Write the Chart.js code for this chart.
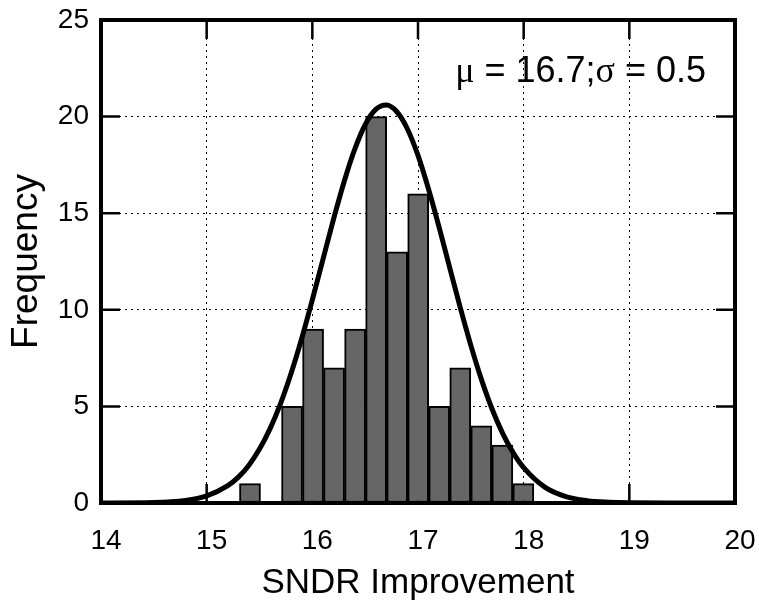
<!DOCTYPE html>
<html>
<head>
<meta charset="utf-8">
<script src="https://cdn.jsdelivr.net/npm/chart.js@4.4.1/dist/chart.umd.min.js"></script>
<style>
  html, body { margin: 0; padding: 0; background: #ffffff; }
  #wrap { width: 759px; height: 606px; }
</style>
</head>
<body>
<div id="wrap"><canvas id="c" width="759" height="606"></canvas></div>
<script>
// ---- data ----
const binCenters = [15.41, 15.609, 15.808, 16.007, 16.206, 16.405, 16.604, 16.803, 17.002, 17.201, 17.4, 17.599, 17.798, 17.997];
const frequencies = [1, 0, 5, 9, 7, 9, 20, 13, 16, 5, 7, 4, 3, 1];

const curveX = [14.0, 14.5, 14.8, 15.0, 15.2, 15.3, 15.4, 15.5, 15.6, 15.7, 15.8, 15.9, 16.0, 16.1, 16.2, 16.3, 16.4, 16.5, 16.6, 16.7, 16.8, 16.9, 17.0, 17.1, 17.2, 17.3, 17.4, 17.5, 17.6, 17.7, 17.8, 17.9, 18.0, 18.2, 18.4, 18.6, 18.8, 19.0, 19.5, 20.0];
const curveY = [0.0, 0.02, 0.13, 0.37, 0.90, 1.34, 1.96, 2.79, 3.85, 5.16, 6.73, 8.53, 10.52, 12.60, 14.68, 16.62, 18.29, 19.58, 20.37, 20.60, 20.25, 19.36, 17.99, 16.24, 14.27, 12.18, 10.11, 8.16, 6.40, 4.88, 3.62, 2.61, 1.83, 0.82, 0.33, 0.12, 0.04, 0.01, 0.0, 0.0];

const xTicks = [14, 15, 16, 17, 18, 19, 20];
const yTicks = [0, 5, 10, 15, 20, 25];
const xTitle = 'SNDR Improvement';
const yTitle = 'Frequency';
const annotationParts = [['μ', 'serif'], [' = 16.7;', 'sans'], ['σ', 'serif'], [' = 0.5', 'sans']];

const SANS = '"Liberation Sans", Arial, Helvetica, sans-serif';
const SERIF = '"Liberation Serif", "DejaVu Serif", serif';

const barData = binCenters.map((x, i) => ({ x: x, y: frequencies[i] }));
const curveData = curveX.map((x, i) => ({ x: x, y: curveY[i] }));

// inward ticks (drawn under the data) and thick frame (drawn over it)
const framePlugin = {
  id: 'frame',
  beforeDatasetsDraw(chart) {
    const { ctx, chartArea: a, scales } = chart;
    const L = 19;
    ctx.save();
    ctx.strokeStyle = '#000';
    ctx.lineWidth = 2.5;
    ctx.beginPath();
    xTicks.forEach(v => {
      const px = scales.x.getPixelForValue(v);
      ctx.moveTo(px, a.bottom); ctx.lineTo(px, a.bottom - L);
      ctx.moveTo(px, a.top); ctx.lineTo(px, a.top + L);
    });
    yTicks.forEach(v => {
      const py = scales.y.getPixelForValue(v);
      ctx.moveTo(a.left, py); ctx.lineTo(a.left + L, py);
      ctx.moveTo(a.right, py); ctx.lineTo(a.right - L, py);
    });
    ctx.stroke();
    ctx.restore();
  },
  afterDatasetsDraw(chart) {
    const { ctx, chartArea: a } = chart;
    ctx.save();
    ctx.strokeStyle = '#000';
    ctx.lineWidth = 4;
    ctx.lineJoin = 'miter';
    ctx.strokeRect(a.left, a.top, a.right - a.left, a.bottom - a.top);
    // annotation text
    const size = 36;
    let widths = annotationParts.map(([t, f]) => {
      ctx.font = size + 'px ' + (f === 'serif' ? SERIF : SANS);
      return ctx.measureText(t).width;
    });
    const total = widths.reduce((s, w) => s + w, 0);
    let x = a.right - 29 - total;
    const y = a.top + 62;
    ctx.fillStyle = '#000';
    ctx.textBaseline = 'alphabetic';
    ctx.textAlign = 'left';
    annotationParts.forEach(([t, f], i) => {
      ctx.font = size + 'px ' + (f === 'serif' ? SERIF : SANS);
      ctx.fillText(t, x, y);
      x += widths[i];
    });
    ctx.restore();
  }
};

new Chart(document.getElementById('c'), {
  type: 'bar',
  data: {
    datasets: [
      {
        type: 'line',
        data: curveData,
        borderColor: '#000',
        borderWidth: 5,
        pointRadius: 0,
        cubicInterpolationMode: 'monotone',
        fill: false,
        order: 0
      },
      {
        type: 'bar',
        data: barData,
        backgroundColor: '#666666',
        borderColor: '#000',
        borderWidth: ctx => (ctx.raw && ctx.raw.y === 0 ? 0 : 2),
        borderSkipped: false,
        barPercentage: 1,
        categoryPercentage: 1,
        order: 1
      }
    ]
  },
  options: {
    responsive: false,
    devicePixelRatio: 1,
    animation: false,
    layout: { padding: { top: 20, right: 24, left: 0, bottom: 0 } },
    plugins: { legend: { display: false }, tooltip: { enabled: false } },
    scales: {
      x: {
        type: 'linear',
        min: 14, max: 20,
        offset: false,
        afterBuildTicks: s => { s.ticks = xTicks.map(v => ({ value: v })); },
        afterFit: s => { s.height = 103; s.paddingLeft = 0; s.paddingRight = 0; },
        grid: { offset: false, color: '#000', lineWidth: 1, drawTicks: false },
        border: { display: false, dash: [2, 4] },
        ticks: { color: '#000', font: { family: SANS, size: 28 }, padding: 21, labelOffset: 5, maxRotation: 0 },
        title: { display: true, text: xTitle, color: '#000', font: { family: SANS, size: 35 }, padding: { top: 0, bottom: 2 } }
      },
      y: {
        type: 'linear',
        min: 0, max: 25,
        afterBuildTicks: s => { s.ticks = yTicks.map(v => ({ value: v })); },
        afterFit: s => { s.width = 101; s.paddingTop = 0; s.paddingBottom = 0; },
        grid: { color: '#000', lineWidth: 1, drawTicks: false },
        border: { display: false, dash: [2, 4] },
        ticks: { color: '#000', font: { family: SANS, size: 28 }, padding: 12 },
        title: { display: true, text: yTitle, color: '#000', font: { family: SANS, size: 37 }, padding: { top: 5, bottom: 0 } }
      }
    }
  },
  plugins: [framePlugin]
});
</script>
</body>
</html>
